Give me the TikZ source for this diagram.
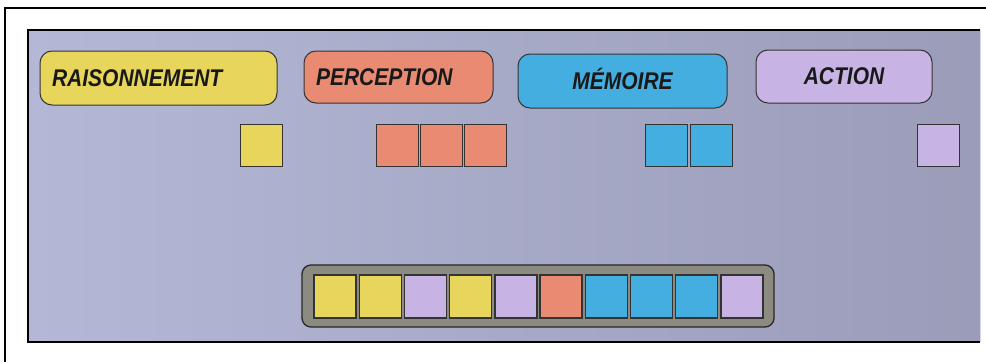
\documentclass[tikz,border=0pt]{standalone}
\usepackage{fontspec}
\newfontfamily\etiqfont{Liberation Sans}
\newcommand\etiqtxt[2]{\raisebox{#1pt}{\scalebox{1}[1.15]{#2}}}
\definecolor{jaune}{RGB}{232,214,92}
\definecolor{saumon}{RGB}{232,139,114}
\definecolor{bleu}{RGB}{69,174,224}
\definecolor{mauve}{RGB}{199,180,229}
\definecolor{fondG}{RGB}{180,184,214}
\definecolor{fondD}{RGB}{154,156,184}
\definecolor{gris}{RGB}{140,139,130}
\begin{document}
\begin{tikzpicture}[x=1pt,y=-1pt,
      etiq/.style={draw=black!80,line width=1pt,rounded corners=12pt,
        inner xsep=12pt,font=\etiqfont\bfseries\itshape\fontsize{21}{22}\selectfont,
        text=black!90},
      bloc/.style={draw=black!80,line width=0.9pt,minimum width=42pt,
        minimum height=42pt,inner sep=0pt},
      plateau/.style={draw=black!85,line width=1.3pt,rounded corners=9pt,fill=gris,
        minimum width=472pt,minimum height=62pt}]
    \useasboundingbox (0,0) rectangle (986,362);
    % --- cadre et fond ---
    \draw[line width=1.5pt] (5,362) -- (5,8) -- (986,8);
    \shade[left color=fondG,right color=fondD] (28,30) rectangle (980,342);
    \draw[white!60!fondD,line width=1pt] (980.5,30) -- (980.5,342);
    \draw[line width=1.5pt] (980,30) -- (28,30) -- (28,342) -- (980,342);
    % --- etiquettes ---
    \foreach \nom/\x/\y/\w/\h/\al/\c/\dy/\t in {%
        raison/158.5/78/213/54/left/jaune/0/RAISONNEMENT,
        percep/398.5/77/165/52/left/saumon/0/PERCEPTION,
        memoire/622.5/81/185/54/center/bleu/5/MÉMOIRE,
        action/844/76.5/152/53/center/mauve/-2/ACTION}{
      \node[etiq,fill=\c,text width=\w pt,minimum height=\h pt,align=\al]
        (\nom) at (\x,\y) {\etiqtxt{\dy}{\t}};
    }
    % --- blocs isoles ---
    \foreach \n/\x/\c in {%
        1/261/jaune, 2/397/saumon, 3/441/saumon, 4/485/saumon,
        5/666.5/bleu, 6/711/bleu, 7/938/mauve}{
      \node[bloc,fill=\c] (b\n) at (\x,145) {};
    }
    % --- plateau ---
    \node[plateau] (plat) at (538,296) {};
    \foreach \i/\c in {%
        0/jaune, 1/jaune, 2/mauve, 3/jaune, 4/mauve,
        5/saumon, 6/bleu, 7/bleu, 8/bleu, 9/mauve}{
      \node[bloc,fill=\c,line width=1.4pt,minimum height=43pt] (t\i) at ({335+45.2*\i},296.5) {};
    }
  \end{tikzpicture}
\end{document}
